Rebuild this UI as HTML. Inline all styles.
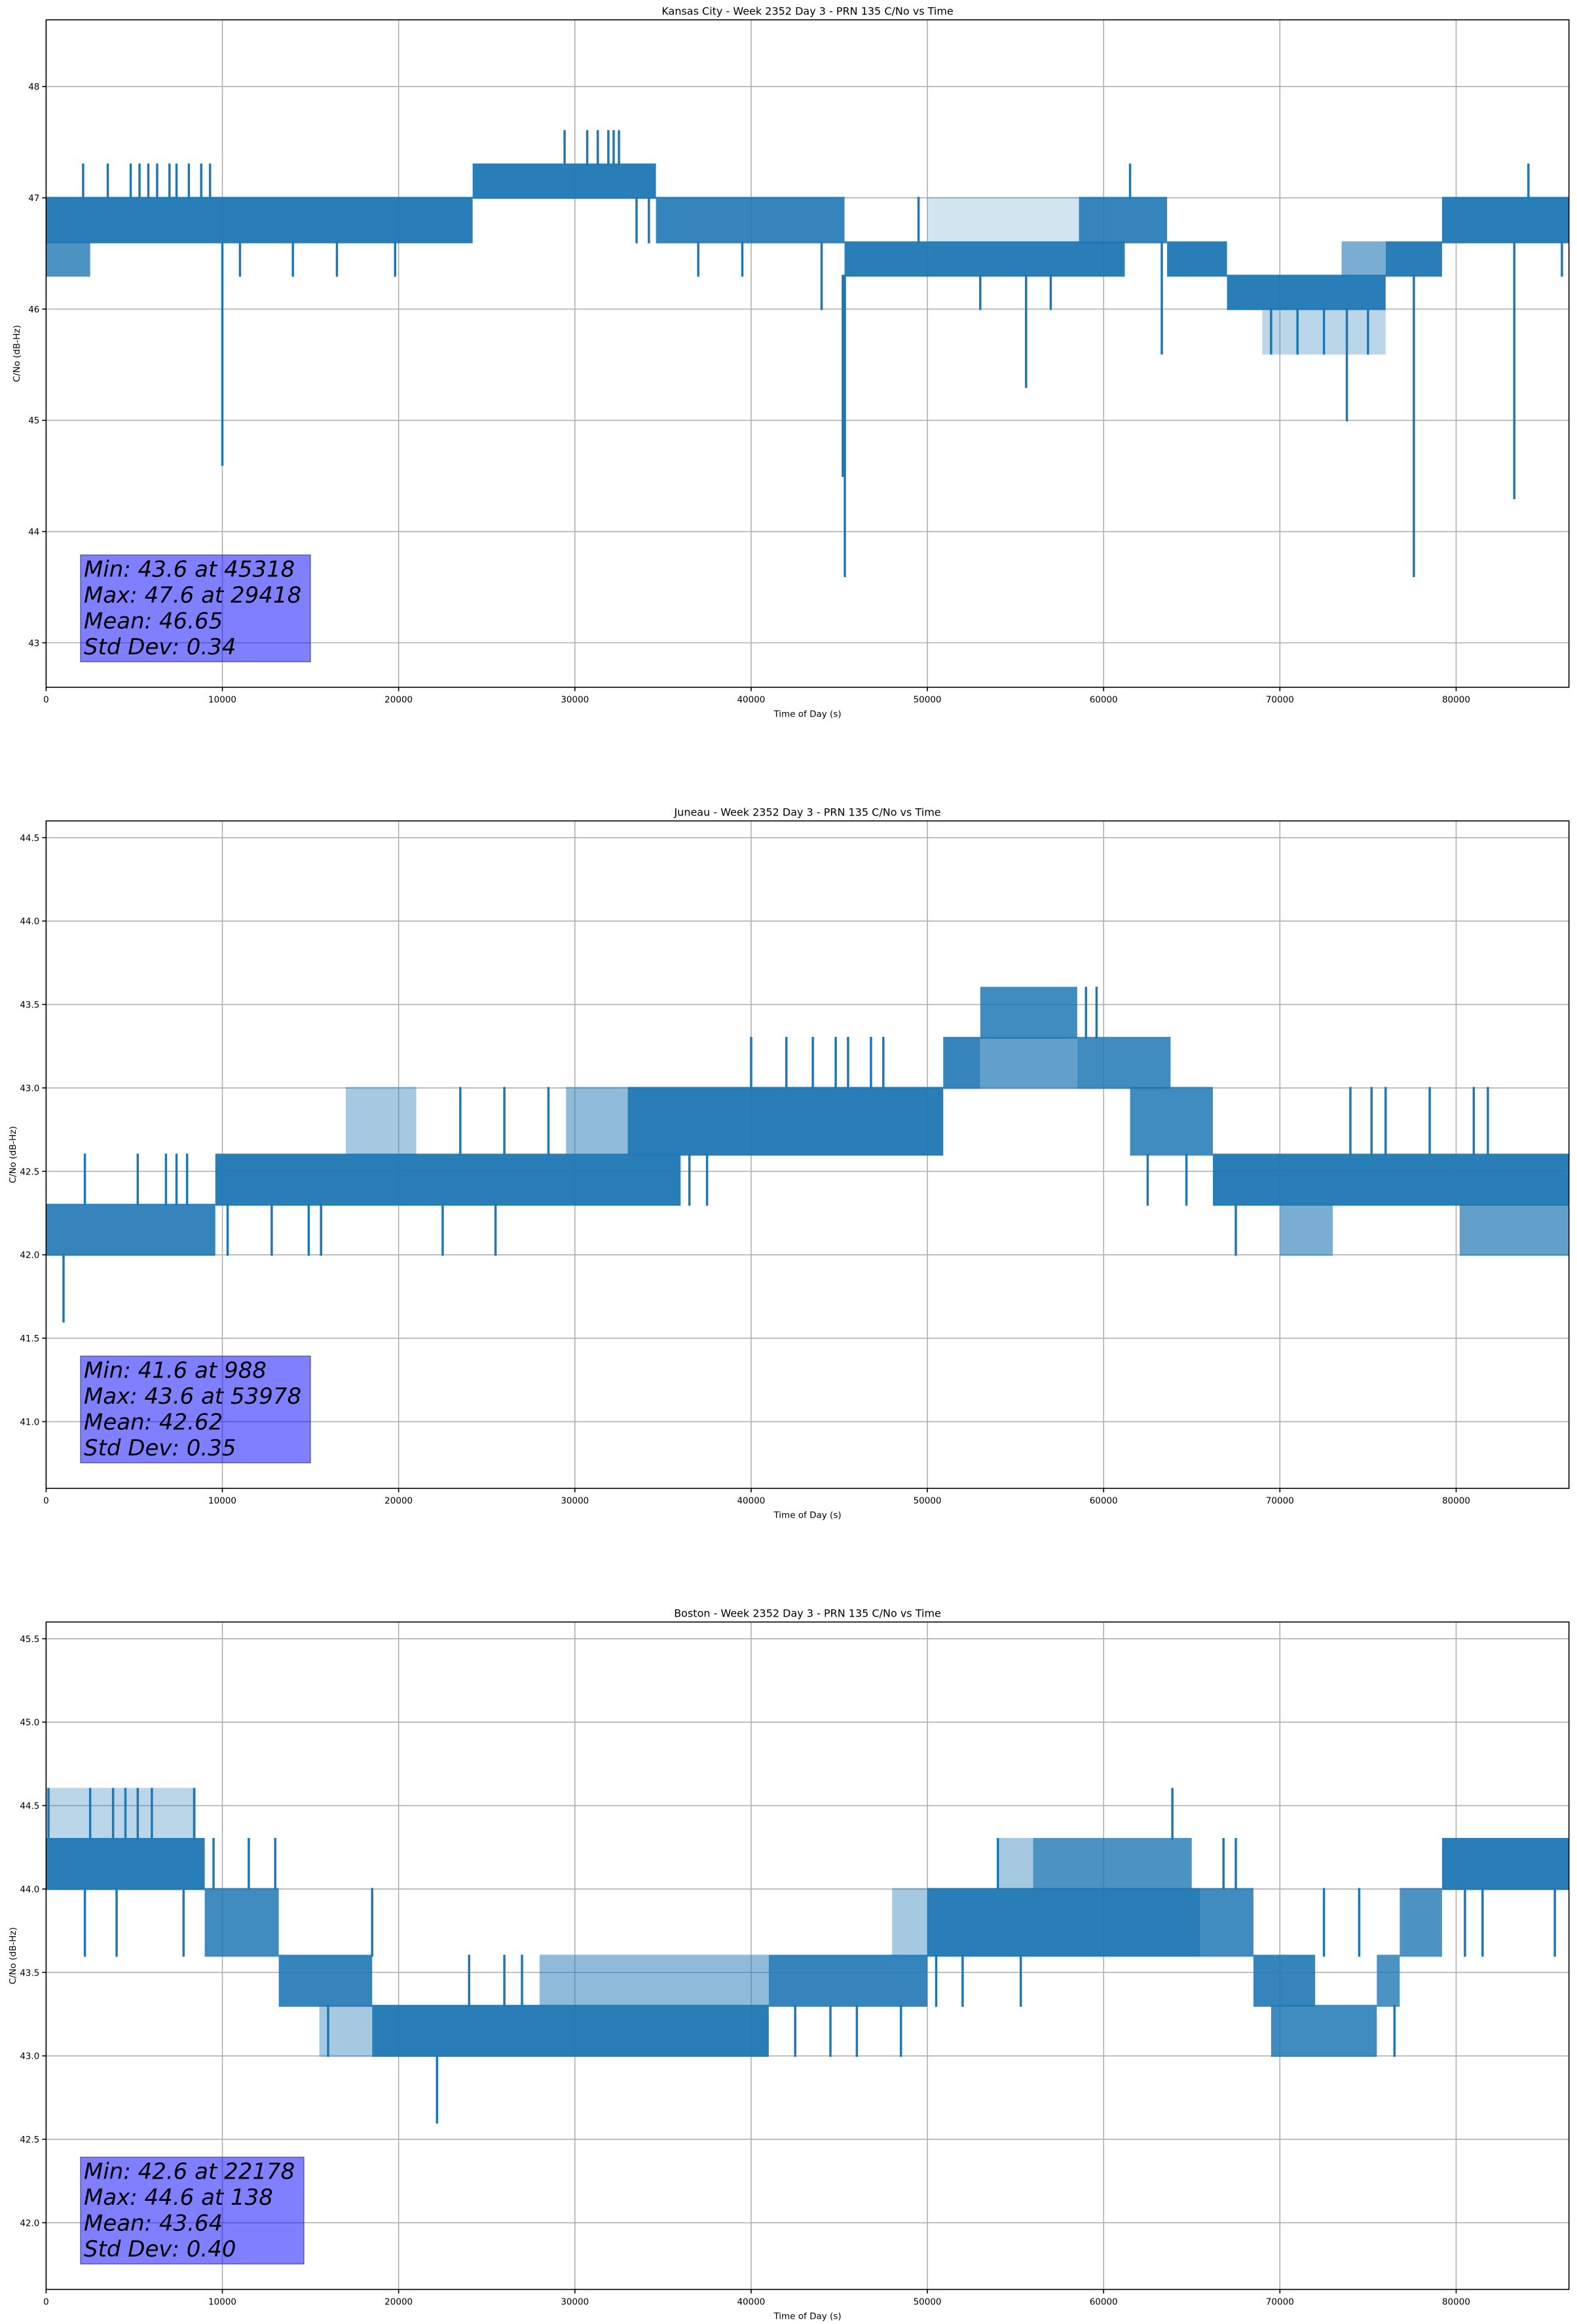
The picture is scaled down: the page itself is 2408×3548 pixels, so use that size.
<!DOCTYPE html>
<html><head><meta charset="utf-8">
<style>
html,body{margin:0;padding:0;background:#fff;}
svg{display:block;font-family:"DejaVu Sans","Liberation Sans",sans-serif;}
</style></head>
<body>
<svg id="fig" width="2408" height="3548" viewBox="0 0 2408 3548" xmlns="http://www.w3.org/2000/svg"></svg>
<script>
// ---- Data ----
const xTicks = [0,10000,20000,30000,40000,50000,60000,70000,80000];
const titles = ["Kansas City - Week 2352 Day 3 - PRN 135 C/No vs Time","Juneau - Week 2352 Day 3 - PRN 135 C/No vs Time","Boston - Week 2352 Day 3 - PRN 135 C/No vs Time"];
const yRanges = [[42.6,48.6],[40.6,44.6],[41.6,45.6]];
const yTicks1 = [43,44,45,46,47,48];
const yTicks2 = [41.0,41.5,42.0,42.5,43.0,43.5,44.0,44.5];
const yTicks3 = [42.0,42.5,43.0,43.5,44.0,44.5,45.0,45.5];
const stats1 = ["Min: 43.6 at 45318","Max: 47.6 at 29418","Mean: 46.65","Std Dev: 0.34"];
const stats2 = ["Min: 41.6 at 988","Max: 43.6 at 53978","Mean: 42.62","Std Dev: 0.35"];
const stats3 = ["Min: 42.6 at 22178","Max: 44.6 at 138","Mean: 43.64","Std Dev: 0.40"];
// dense bands: [tStart, tEnd, low, high, fill fraction]
const bands1 = [[0,2500,46.3,46.6,0.8],[0,24200,46.6,47.0,0.95],[24200,34600,47.0,47.3,0.95],[34600,45300,46.6,47.0,0.9],[45300,61200,46.3,46.6,0.95],[50000,58600,46.6,47.0,0.2],[58600,63600,46.6,47.0,0.9],[63600,67000,46.3,46.6,0.95],[67000,76000,46.0,46.3,0.95],[69000,76000,45.6,46.0,0.3],[73500,76000,46.3,46.6,0.6],[76000,79200,46.3,46.6,0.95],[79200,86400,46.6,47.0,0.95]];
const bands2 = [[0,9600,42.0,42.3,0.9],[9600,36000,42.3,42.6,0.95],[17000,21000,42.6,43.0,0.4],[29500,33000,42.6,43.0,0.5],[33000,50900,42.6,43.0,0.95],[50900,53000,43.0,43.3,0.9],[53000,58500,43.3,43.6,0.85],[53000,58500,43.0,43.3,0.7],[58500,63800,43.0,43.3,0.85],[61500,66200,42.6,43.0,0.85],[66200,86400,42.3,42.6,0.95],[70000,73000,42.0,42.3,0.6],[80200,86400,42.0,42.3,0.7]];
const bands3 = [[0,9000,44.0,44.3,0.95],[0,8500,44.3,44.6,0.3],[9000,13200,43.6,44.0,0.85],[13200,18500,43.3,43.6,0.9],[15500,18500,43.0,43.3,0.4],[18500,41000,43.0,43.3,0.95],[28000,41000,43.3,43.6,0.5],[41000,50000,43.3,43.6,0.9],[48000,50000,43.6,44.0,0.4],[50000,65500,43.6,44.0,0.95],[54000,56000,44.0,44.3,0.4],[56000,65000,44.0,44.3,0.8],[65500,68500,43.6,44.0,0.85],[68500,72000,43.3,43.6,0.9],[69500,75500,43.0,43.3,0.85],[75500,76800,43.3,43.6,0.8],[76800,79200,43.6,44.0,0.8],[79200,86400,44.0,44.3,0.95]];
// isolated flicker/spike lines: [t, low, high]
const spikes1 = [[2100,47.0,47.3],[3500,47.0,47.3],[4800,47.0,47.3],[5300,47.0,47.3],[5800,47.0,47.3],[6300,47.0,47.3],[7000,47.0,47.3],[7400,47.0,47.3],[8100,47.0,47.3],[8800,47.0,47.3],[9300,47.0,47.3],[10000,44.6,46.6],[11000,46.3,46.6],[14000,46.3,46.6],[16500,46.3,46.6],[19800,46.3,46.6],[29418,47.3,47.6],[30700,47.3,47.6],[31300,47.3,47.6],[31900,47.3,47.6],[32200,47.3,47.6],[32500,47.3,47.6],[33500,46.6,47.0],[34200,46.6,47.0],[37000,46.3,46.6],[39500,46.3,46.6],[44000,46.0,46.6],[45200,44.5,46.3],[45318,43.6,46.3],[49500,47.0,46.6],[53000,46.0,46.3],[55600,45.3,46.3],[57000,46.0,46.3],[61500,47.0,47.3],[63300,45.6,46.6],[69500,45.6,46.0],[71000,45.6,46.0],[72500,45.6,46.0],[73800,45.0,46.0],[75000,45.6,46.0],[77600,43.6,46.3],[83300,44.3,46.6],[84100,47.0,47.3],[86000,46.3,46.6]];
const spikes2 = [[988,41.6,42.0],[2200,42.3,42.6],[5200,42.3,42.6],[6800,42.3,42.6],[7400,42.3,42.6],[8000,42.3,42.6],[10300,42.0,42.3],[12800,42.0,42.3],[14900,42.0,42.3],[15600,42.0,42.3],[22500,42.0,42.3],[23500,42.6,43.0],[25500,42.0,42.3],[26000,42.6,43.0],[28500,42.6,43.0],[36500,42.3,42.6],[37500,42.3,42.6],[40000,43.0,43.3],[42000,43.0,43.3],[43500,43.0,43.3],[44800,43.0,43.3],[45500,43.0,43.3],[46800,43.0,43.3],[47500,43.0,43.3],[59000,43.3,43.6],[59600,43.3,43.6],[62500,42.3,42.6],[64700,42.3,42.6],[67500,42.0,42.3],[74000,42.6,43.0],[75200,42.6,43.0],[76000,42.6,43.0],[78500,42.6,43.0],[81000,42.6,43.0],[81800,42.6,43.0]];
const spikes3 = [[138,44.3,44.6],[2500,44.3,44.6],[3800,44.3,44.6],[4500,44.3,44.6],[5200,44.3,44.6],[6000,44.3,44.6],[8400,44.3,44.6],[2200,43.6,44.0],[4000,43.6,44.0],[7800,43.6,44.0],[9500,44.0,44.3],[11500,44.0,44.3],[13000,44.0,44.3],[18500,43.6,44.0],[16000,43.0,43.3],[22178,42.6,43.0],[24000,43.3,43.6],[26000,43.3,43.6],[27000,43.3,43.6],[42500,43.0,43.3],[44500,43.0,43.3],[46000,43.0,43.3],[48500,43.0,43.3],[50500,43.3,43.6],[52000,43.3,43.6],[54000,44.0,44.3],[55300,43.3,43.6],[63900,44.3,44.6],[66800,44.0,44.3],[67500,44.0,44.3],[72500,43.6,44.0],[74500,43.6,44.0],[76500,43.0,43.3],[80500,43.6,44.0],[81500,43.6,44.0],[85600,43.6,44.0]];

// ---- Layout ----
const NS="http://www.w3.org/2000/svg";
const svg=document.getElementById('fig');
const L=70.4, W=2325.3, H=1019, tops=[30.3,1253.3,2476.3], XMAX=86400;
const yTickSets=[yTicks1,yTicks2,yTicks3], statSets=[stats1,stats2,stats3];
const bandSets=[bands1,bands2,bands3], spikeSets=[spikes1,spikes2,spikes3];
const boxW=[351,351,341];
function mk(tag,attrs,parent){const e=document.createElementNS(NS,tag);for(const k in attrs)e.setAttribute(k,attrs[k]);(parent||svg).appendChild(e);return e;}

for(let p=0;p<3;p++){
  const top=tops[p], [y0,y1]=yRanges[p];
  const xs=t=>L+t/XMAX*W;
  const ys=v=>top+H-(v-y0)/(y1-y0)*H;
  const g=mk('g',{});
  
  
  const clipId='clip'+p;
  const cp=mk('clipPath',{id:clipId},g); mk('rect',{x:L,y:top,width:W,height:H},cp);
  const grid=mk('g',{stroke:'#b0b0b0','stroke-width':1.6},g);
  
  
  xTicks.forEach(t=>mk('line',{x1:xs(t),x2:xs(t),y1:top,y2:top+H},grid));
  yTickSets[p].forEach(v=>mk('line',{x1:L,x2:L+W,y1:ys(v),y2:ys(v)},grid));
  const ser=mk('g',{fill:'#1f77b4',stroke:'#1f77b4','clip-path':'url(#'+clipId+')'},g);
  
  
  bandSets[p].forEach(b=>{
    const r=mk('rect',{x:xs(b[0]),y:ys(b[3])-1.5,width:xs(b[1])-xs(b[0]),height:ys(b[2])-ys(b[3])+3,stroke:'none','fill-opacity':b[4]},ser);
    
    
  });
  spikeSets[p].forEach(s=>{
    const lo=Math.min(s[1],s[2]), hi=Math.max(s[1],s[2]);
    const l=mk('line',{x1:xs(s[0]),x2:xs(s[0]),y1:ys(lo)+1.5,y2:ys(hi)-1.5,'stroke-width':3.5},ser);
    
    
  });
  const sp=mk('rect',{x:L,y:top,width:W,height:H,fill:'none',stroke:'#000','stroke-width':1.6},g);
  
  
  xTicks.forEach(t=>{
    mk('line',{x1:xs(t),x2:xs(t),y1:top+H,y2:top+H+6,stroke:'#000','stroke-width':1.6},g);
    const tx=mk('text',{x:xs(t),y:top+H+23,'font-size':13.5,'text-anchor':'middle',fill:'#000'},g);
    tx.textContent=String(t);
    
    
  });
  yTickSets[p].forEach(v=>{
    mk('line',{x1:L-6,x2:L,y1:ys(v),y2:ys(v),stroke:'#000','stroke-width':1.6},g);
    const tx=mk('text',{x:L-10,y:ys(v)+5,'font-size':13.5,'text-anchor':'end',fill:'#000'},g);
    tx.textContent=p===0?String(v):v.toFixed(1);
    
    
  });
  const xl=mk('text',{x:L+W/2,y:top+H+45,'font-size':13.5,'text-anchor':'middle',fill:'#000'},g);
  xl.textContent='Time of Day (s)';
  
  
  const yl=mk('text',{x:0,y:0,'font-size':13.5,'text-anchor':'middle',fill:'#000',transform:'translate('+(p===0?30:24)+','+(top+H/2)+') rotate(-90)'},g);
  yl.textContent='C/No (dB-Hz)';
  
  
  const tt=mk('text',{x:L+W/2,y:top-8,'font-size':16,'text-anchor':'middle',fill:'#000'},g);
  tt.textContent=titles[p];
  
  
  const bx=123, by=top+H-202, bh=163;
  const bg=mk('g',{},g);
  
  
  mk('rect',{x:bx,y:by,width:boxW[p],height:bh,fill:'rgba(0,0,255,0.5)',stroke:'rgba(60,60,120,0.7)','stroke-width':1.5},bg);
  statSets[p].forEach((s,i)=>{
    const tx=mk('text',{x:bx+5,y:by+33+i*39.5,'font-size':34,'font-style':'oblique',fill:'#000'},bg);
    tx.textContent=s;
    
    
  });
}
</script>
</body></html>
